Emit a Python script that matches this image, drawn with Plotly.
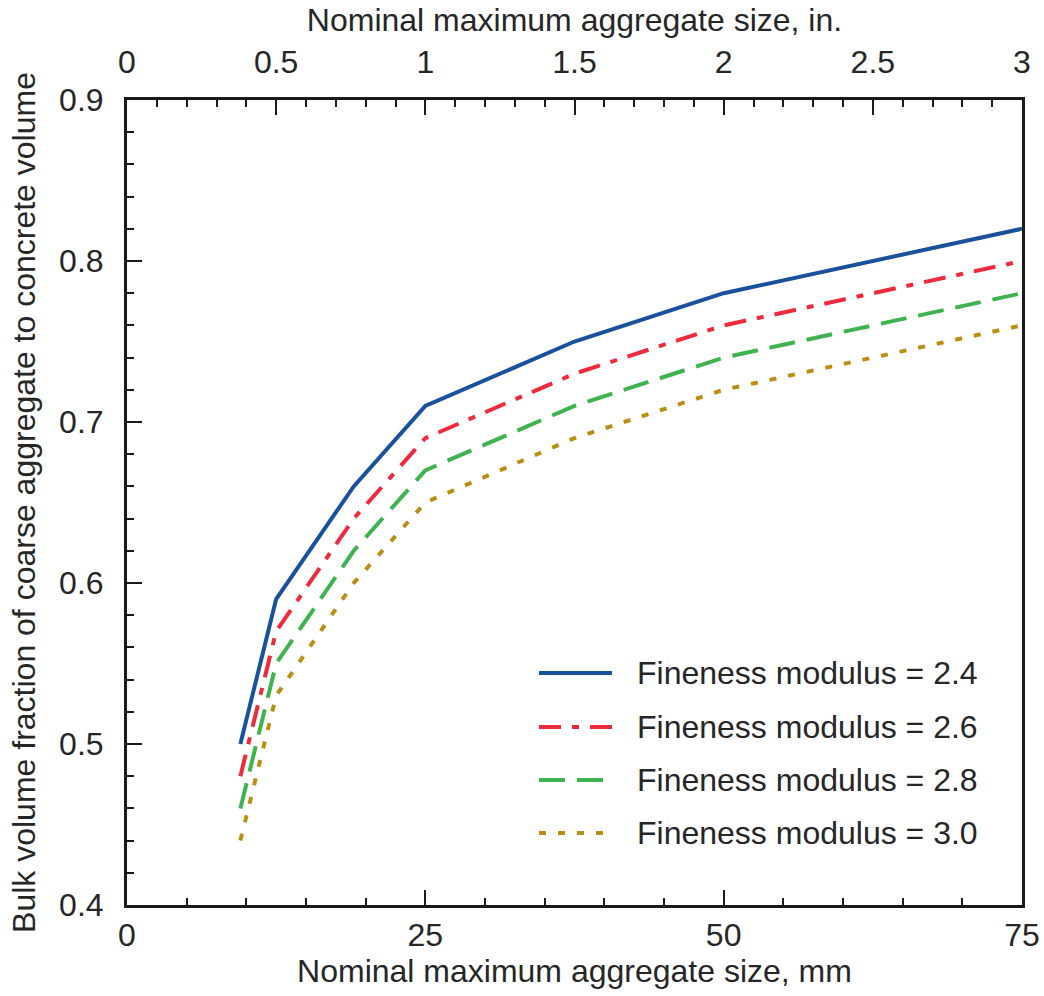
import plotly.graph_objects as go

# ---- data ----
size_mm = [9.5, 12.5, 19, 25, 37.5, 50, 75]
fm_labels = ["Fineness modulus = 2.4", "Fineness modulus = 2.6",
             "Fineness modulus = 2.8", "Fineness modulus = 3.0"]
fm_24 = [0.50, 0.59, 0.66, 0.71, 0.75, 0.78, 0.82]
fm_26 = [0.48, 0.57, 0.64, 0.69, 0.73, 0.76, 0.80]
fm_28 = [0.46, 0.55, 0.62, 0.67, 0.71, 0.74, 0.78]
fm_30 = [0.44, 0.53, 0.60, 0.65, 0.69, 0.72, 0.76]
series = [fm_24, fm_26, fm_28, fm_30]

x_mm_ticks = [0, 25, 50, 75]
x_in_ticks = [0, 0.5, 1, 1.5, 2, 2.5, 3]
x_in_text = ["0", "0.5", "1", "1.5", "2", "2.5", "3"]
y_ticks = [0.4, 0.5, 0.6, 0.7, 0.8, 0.9]

# ---- styles ----
colors = ["#1a519c", "#ee2a3c", "#3fb34f", "#b98f12"]
dashes = ["solid", "22px,11px,7px,11px", "26px,12px", "7px,12px"]
FONT = "Liberation Sans, Arial, Helvetica, sans-serif"
TXT = "#262626"
AX = "#1a1a1a"
FS = 32

W, H = 1044, 996
L, R, T, B = 127, 22, 100, 91
pw, ph = W - L - R, H - T - B

fig = go.Figure()
for vals, c, d, name in zip(series, colors, dashes, fm_labels):
    fig.add_trace(go.Scatter(x=size_mm, y=vals, mode="lines", name=name,
                             line=dict(color=c, width=4, dash=d),
                             showlegend=False))

# invisible trace to activate top (inch) axis
fig.add_trace(go.Scatter(x=[0, 3], y=[0.4, 0.4], xaxis="x2", mode="lines",
                         line=dict(width=0), showlegend=False, hoverinfo="skip"))

axis_common = dict(showline=True, linecolor=AX, linewidth=3, automargin=False,
                   ticks="inside", tickcolor=AX, tickwidth=2, ticklen=15,
                   showgrid=False, zeroline=False,
                   tickfont=dict(family=FONT, size=FS, color=TXT))
minor_common = dict(ticklen=7, tickwidth=2, tickcolor=AX, ticks="inside")

fig.update_layout(
    width=W, height=H,
    margin=dict(l=L, r=R, t=T, b=B, autoexpand=False),
    plot_bgcolor="white", paper_bgcolor="white",
    font=dict(family=FONT, size=FS, color=TXT),
    xaxis=dict(range=[0, 75], tickvals=x_mm_ticks, mirror=False,
               minor=dict(dtick=5, **minor_common), ticklabelstandoff=0,
               title=dict(text="Nominal maximum aggregate size, mm", font=dict(size=FS), standoff=2),
               **axis_common),
    xaxis2=dict(range=[0, 3], tickvals=x_in_ticks, ticktext=x_in_text,
                overlaying="x", side="top", ticklabelstandoff=11,
                minor=dict(dtick=0.1, **minor_common),
                title=dict(text="Nominal maximum aggregate size, in.", font=dict(size=FS), standoff=4),
                **axis_common),
    yaxis=dict(range=[0.4, 0.9], tickvals=y_ticks, tickformat=".1f", mirror=True,
               minor=dict(dtick=0.02, **minor_common), ticklabelstandoff=14,
               title=dict(text="Bulk volume fraction of coarse aggregate to concrete volume",
                          font=dict(size=FS), standoff=14),
               **axis_common),
)

# ---- manual legend (long line samples) ----
leg_rows_px = [673, 727, 780, 833]
x0_px, x1_px, xt_px = 539, 612, 635
for ypx, c, d, name in zip(leg_rows_px, colors, dashes, fm_labels):
    yp = (H - B - ypx) / ph
    fig.add_shape(type="line", xref="paper", yref="paper",
                  x0=(x0_px - L) / pw, x1=(x1_px - L) / pw, y0=yp, y1=yp,
                  line=dict(color=c, width=4, dash=d))
    fig.add_annotation(xref="paper", yref="paper", x=(xt_px - L) / pw, y=yp,
                       text=name, showarrow=False, xanchor="left", yanchor="middle",
                       font=dict(family=FONT, size=FS, color=TXT))

fig.write_html("out.html", config={"displayModeBar": False},
               post_script="document.body.style.margin='0';document.body.style.overflow='hidden';")
